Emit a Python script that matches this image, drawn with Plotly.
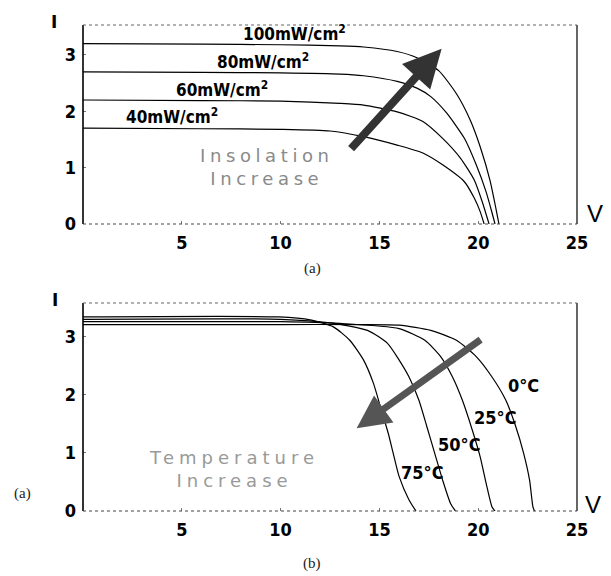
import plotly.graph_objects as go
from plotly.subplots import make_subplots

# ---------------- data: (a) insolation ----------------
irr_labels = ["100mW/cm<sup>2</sup>", "80mW/cm<sup>2</sup>", "60mW/cm<sup>2</sup>", "40mW/cm<sup>2</sup>"]
irr_label_v = [10.7, 9.1, 7.05, 4.5]
irr_label_i = [3.39, 2.89, 2.40, 1.91]

V100 = [0, 6, 10, 13, 14.2, 15.9, 16.9, 18.0, 18.9, 19.6, 20.1, 20.6, 20.9, 21.05]
I100 = [3.20, 3.19, 3.18, 3.16, 3.14, 3.06, 2.95, 2.72, 2.31, 1.84, 1.37, 0.77, 0.27, 0.0]
V80 = [0, 6, 10, 13, 14.2, 15.9, 16.9, 17.6, 18.4, 19.3, 19.9, 20.4, 20.7, 20.85]
I80 = [2.70, 2.69, 2.68, 2.66, 2.63, 2.53, 2.41, 2.26, 1.97, 1.52, 1.05, 0.57, 0.20, 0.0]
V60 = [0, 6, 10, 13, 14.2, 15.9, 17.2, 18.2, 19.1, 19.8, 20.2, 20.55]
I60 = [2.20, 2.19, 2.18, 2.14, 2.11, 1.99, 1.82, 1.52, 1.17, 0.78, 0.40, 0.0]
V40 = [0, 6, 10, 12.5, 14.2, 15.9, 17.2, 18.2, 19.3, 19.8, 20.1, 20.3]
I40 = [1.70, 1.69, 1.68, 1.65, 1.55, 1.40, 1.26, 1.05, 0.75, 0.46, 0.22, 0.0]

# ---------------- data: (b) temperature ----------------
temp_labels = ["0°C", "25°C", "50°C", "75°C"]
temp_label_v = [22.3, 20.9, 19.05, 17.2]
temp_label_i = [2.16, 1.60, 1.14, 0.66]

V0 = [0, 10, 14, 16.0, 17.6, 18.9, 19.9, 20.7, 21.4, 21.9, 22.3, 22.6, 22.77, 22.85]
I0 = [3.20, 3.20, 3.20, 3.19, 3.10, 2.93, 2.65, 2.30, 1.90, 1.45, 0.99, 0.53, 0.07, 0.0]
V25 = [0, 10, 13, 16.0, 17.3, 18.1, 18.7, 19.2, 19.7, 20.1, 20.4, 20.7, 20.85]
I25 = [3.25, 3.25, 3.22, 3.13, 2.93, 2.65, 2.30, 1.90, 1.39, 0.93, 0.48, 0.07, 0.0]
V50 = [0, 10, 12.5, 14.4, 15.4, 16.0, 16.5, 17.0, 17.4, 17.8, 18.2, 18.6, 18.85]
I50 = [3.29, 3.29, 3.23, 3.10, 2.88, 2.59, 2.30, 1.90, 1.45, 0.99, 0.53, 0.13, 0.0]
V75 = [0, 9.9, 11.5, 12.67, 13.5, 14.2, 14.7, 15.1, 15.45, 15.7, 16.0, 16.5, 16.85]
I75 = [3.33, 3.33, 3.28, 3.16, 2.93, 2.59, 2.19, 1.73, 1.33, 0.99, 0.59, 0.19, 0.0]

x_ticks = [5, 10, 15, 20, 25]
y_ticks = [0, 1, 2, 3]

fig = make_subplots(rows=2, cols=1, vertical_spacing=0.1625)
fig.update_yaxes(domain=[0.5905, 1.0], row=1, col=1)
fig.update_yaxes(domain=[0.0, 0.428], row=2, col=1)

line = dict(color="black", width=1.2, shape="spline", smoothing=0.6)
for V, I in [(V100, I100), (V80, I80), (V60, I60), (V40, I40)]:
    fig.add_trace(go.Scatter(x=V, y=I, mode="lines", line=line, showlegend=False, hoverinfo="skip"), row=1, col=1)
for V, I in [(V0, I0), (V25, I25), (V50, I50), (V75, I75)]:
    fig.add_trace(go.Scatter(x=V, y=I, mode="lines", line=line, showlegend=False, hoverinfo="skip"), row=2, col=1)

tickfont = dict(family="DejaVu Sans Condensed", size=18, color="black", weight="bold")
axis_common = dict(showgrid=False, zeroline=False, showline=False, ticks="inside", ticklen=3,
                   tickcolor="#777", tickfont=tickfont, ticklabelstandoff=6)
for r in (1, 2):
    fig.update_xaxes(range=[0, 25], tickvals=x_ticks, row=r, col=1, **axis_common)
fig.update_yaxes(range=[0, 3.53], tickvals=y_ticks, row=1, col=1, **axis_common)
fig.update_yaxes(range=[0, 3.57], tickvals=y_ticks, row=2, col=1, **axis_common)

# frame
for xr, yr in [("x domain", "y domain"), ("x2 domain", "y2 domain")]:
    fig.add_shape(type="line", xref=xr, yref=yr, x0=0, x1=0, y0=0, y1=1, line=dict(color="black", width=1.6))
    fig.add_shape(type="line", xref=xr, yref=yr, x0=1, x1=1, y0=0, y1=1, line=dict(color="black", width=1.2))
    fig.add_shape(type="line", xref=xr, yref=yr, x0=0, x1=1, y0=0, y1=0, line=dict(color="#444", width=1.2, dash="dot"))
    fig.add_shape(type="line", xref=xr, yref=yr, x0=0, x1=1, y0=1, y1=1, line=dict(color="#666", width=1.2, dash="dot"))

labfont = dict(family="DejaVu Sans Condensed", size=17, color="black", weight="bold")
for t, v, i in zip(irr_labels, irr_label_v, irr_label_i):
    fig.add_annotation(x=v, y=i, xref="x", yref="y", text=t, showarrow=False, font=labfont)
tlabfont = dict(family="DejaVu Sans Condensed", size=18, color="black", weight="bold")
for t, v, i in zip(temp_labels, temp_label_v, temp_label_i):
    fig.add_annotation(x=v, y=i, xref="x2", yref="y2", text=t, showarrow=False, font=tlabfont)

# arrows
fig.add_annotation(x=18.15, y=3.11, ax=13.5, ay=1.31, xref="x", yref="y", axref="x", ayref="y",
                   text="", showarrow=True, arrowhead=2, arrowsize=0.95, arrowwidth=8, arrowcolor="#333333")
fig.add_annotation(x=13.85, y=1.42, ax=20.2, ay=2.96, xref="x2", yref="y2", axref="x2", ayref="y2",
                   text="", showarrow=True, arrowhead=2, arrowsize=0.95, arrowwidth=7, arrowcolor="#555555")

fig.add_annotation(x=9.3, y=1.02, xref="x", yref="y",
                   text='<span style="letter-spacing:4.6px">Insolation</span><br><span style="letter-spacing:4.6px">Increase</span>',
                   showarrow=False, font=dict(family="DejaVu Sans", size=18, color="#8a8a8a"))
fig.add_annotation(x=7.65, y=0.72, xref="x2", yref="y2",
                   text='<span style="letter-spacing:5px">Temperature</span><br><span style="letter-spacing:5px">Increase</span>',
                   showarrow=False, font=dict(family="DejaVu Sans", size=18, color="#999999"))

# axis letters
ifont = dict(family="DejaVu Sans", size=17, color="black", weight="bold")
vfont = dict(family="Liberation Sans", size=24, color="black")
pa = dict(xref="paper", yref="paper", showarrow=False, xanchor="center", yanchor="middle")
fig.add_annotation(x=-0.0587, y=1.006, text="I", font=ifont, **pa)
fig.add_annotation(x=-0.056, y=0.434, text="I", font=ifont, **pa)
fig.add_annotation(x=1.036, y=0.613, text="V", font=vfont, **pa)
fig.add_annotation(x=1.032, y=0.0144, text="V", font=vfont, **pa)

# captions
cfont = dict(family="Liberation Serif", size=15, color="#222")
fig.add_annotation(x=0.464, y=0.5, text="(a)", font=cfont, **pa)
fig.add_annotation(x=0.464, y=-0.107, text="(b)", font=cfont, **pa)
fig.add_annotation(x=-0.123, y=0.037, text="(a)", font=cfont, **pa)

# page has an 8px body margin, so the figure is sized to fit the 611x576 window
fig.update_layout(width=603, height=568, margin=dict(l=75, r=34, t=17, b=65),
                  plot_bgcolor="white", paper_bgcolor="white")
fig.write_html("out.html")
